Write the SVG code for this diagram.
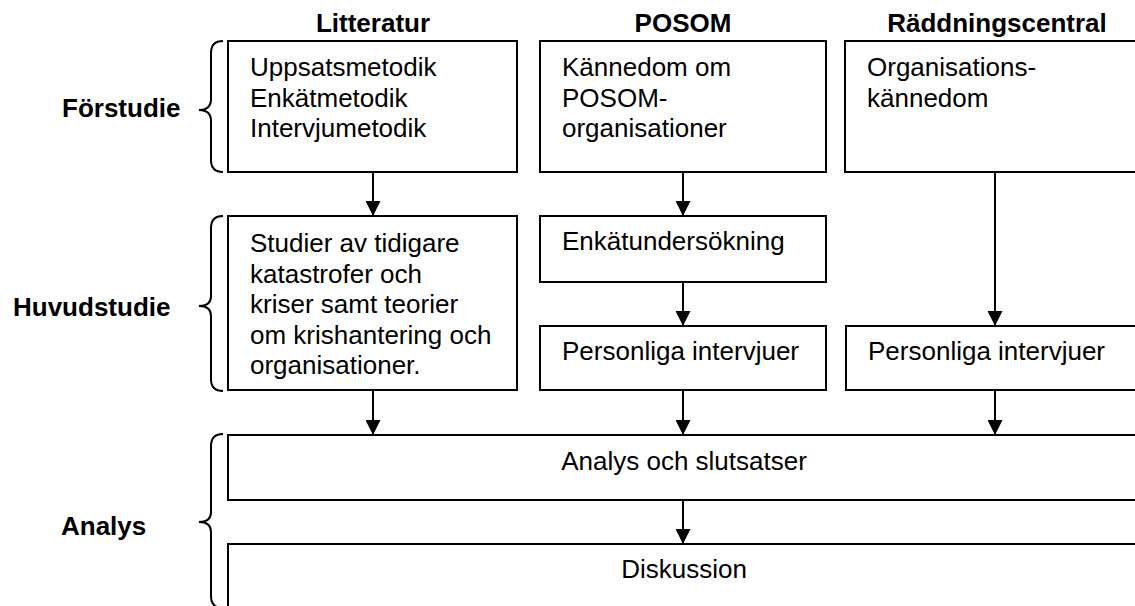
<svg xmlns="http://www.w3.org/2000/svg" width="1135" height="606" viewBox="0 0 1135 606">
<style>
  .box{fill:#fff;stroke:#000;stroke-width:2}
  .t{font-family:"Liberation Sans",Arial,sans-serif;font-size:26px;fill:#000}
  .b{font-family:"Liberation Sans",Arial,sans-serif;font-size:26px;font-weight:bold;fill:#000}
  .conn{stroke:#000;stroke-width:2;fill:none}
  .brace{stroke:#000;stroke-width:2;fill:none}
</style>
<defs>
  <marker id="arr" markerWidth="15" markerHeight="15" refX="15" refY="7.5" orient="auto" markerUnits="userSpaceOnUse">
    <path d="M0,0 L15,7.5 L0,15 Z" fill="#000"/>
  </marker>
</defs>
<rect width="1135" height="606" fill="#fff"/>

<g id="headers">
  <text class="b" x="373" y="32" text-anchor="middle">Litteratur</text>
  <text class="b" x="683" y="32" text-anchor="middle">POSOM</text>
  <text class="b" x="997" y="32" text-anchor="middle">Räddningscentral</text>
</g>

<g id="phase-labels">
  <g id="forstudie">
    <text class="b" x="62" y="117">Förstudie</text>
    <path class="brace" d="M223,41 Q211,41 211,53 L211,99 Q211,110 199,110 Q211,110 211,121 L211,160 Q211,172 223,172"/>
  </g>
  <g id="huvudstudie">
    <text class="b" x="13" y="316">Huvudstudie</text>
    <path class="brace" d="M223,216 Q211,216 211,228 L211,296 Q211,306 199,306 Q211,306 211,316 L211,379 Q211,391 223,391"/>
  </g>
  <g id="analys">
    <text class="b" x="61" y="535">Analys</text>
    <path class="brace" d="M223,434 Q211,434 211,446 L211,512 Q211,522 199,522 Q211,522 211,532 L211,596 Q211,608 223,608"/>
  </g>
</g>

<g id="connectors">
  <line class="conn" x1="373" y1="172" x2="373" y2="216" marker-end="url(#arr)"/>
  <line class="conn" x1="683" y1="172" x2="683" y2="216" marker-end="url(#arr)"/>
  <line class="conn" x1="995" y1="172" x2="995" y2="326" marker-end="url(#arr)"/>
  <line class="conn" x1="683" y1="282" x2="683" y2="326" marker-end="url(#arr)"/>
  <line class="conn" x1="373" y1="390" x2="373" y2="435" marker-end="url(#arr)"/>
  <line class="conn" x1="683" y1="390" x2="683" y2="435" marker-end="url(#arr)"/>
  <line class="conn" x1="995" y1="390" x2="995" y2="435" marker-end="url(#arr)"/>
  <line class="conn" x1="683" y1="500" x2="683" y2="544" marker-end="url(#arr)"/>
</g>

<g id="lit-forstudie">
  <rect class="box" x="228" y="41" width="289" height="131"/>
  <text class="t" x="250" y="76">Uppsatsmetodik</text>
  <text class="t" x="250" y="106.5">Enkätmetodik</text>
  <text class="t" x="250" y="137">Intervjumetodik</text>
</g>
<g id="posom-forstudie">
  <rect class="box" x="540" y="41" width="286" height="131"/>
  <text class="t" x="562" y="76">Kännedom om</text>
  <text class="t" x="562" y="106.5">POSOM-</text>
  <text class="t" x="562" y="137">organisationer</text>
</g>
<g id="rc-forstudie">
  <rect class="box" x="845" y="41" width="300" height="131"/>
  <text class="t" x="867" y="76">Organisations-</text>
  <text class="t" x="867" y="106.5">kännedom</text>
</g>

<g id="lit-huvudstudie">
  <rect class="box" x="228" y="216" width="289" height="174"/>
  <text class="t" x="250" y="252">Studier av tidigare</text>
  <text class="t" x="250" y="282.5">katastrofer och</text>
  <text class="t" x="250" y="313">kriser samt teorier</text>
  <text class="t" x="250" y="343.5">om krishantering och</text>
  <text class="t" x="250" y="374">organisationer.</text>
</g>
<g id="posom-enkat">
  <rect class="box" x="540" y="216" width="286" height="66"/>
  <text class="t" x="562" y="250">Enkätundersökning</text>
</g>
<g id="posom-intervjuer">
  <rect class="box" x="540" y="326" width="286" height="64"/>
  <text class="t" x="562" y="360">Personliga intervjuer</text>
</g>
<g id="rc-intervjuer">
  <rect class="box" x="846" y="326" width="300" height="64"/>
  <text class="t" x="868" y="360">Personliga intervjuer</text>
</g>

<g id="analys-slutsatser">
  <rect class="box" x="228" y="435" width="920" height="65"/>
  <text class="t" x="684" y="470" text-anchor="middle">Analys och slutsatser</text>
</g>
<g id="diskussion">
  <rect class="box" x="228" y="544" width="920" height="80"/>
  <text class="t" x="684" y="578" text-anchor="middle">Diskussion</text>
</g>
</svg>
